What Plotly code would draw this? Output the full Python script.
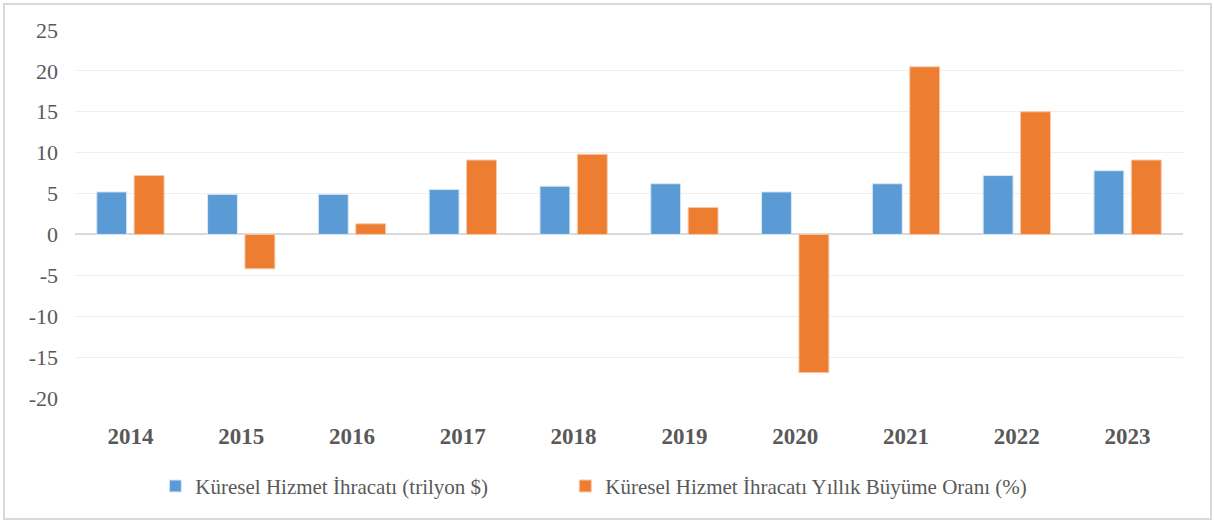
import plotly.graph_objects as go

# values
years = ["2014", "2015", "2016", "2017", "2018", "2019", "2020", "2021", "2022", "2023"]
exports_trn = [5.2, 4.9, 4.9, 5.5, 5.9, 6.2, 5.2, 6.2, 7.2, 7.8]
growth_pct = [7.2, -4.2, 1.3, 9.1, 9.8, 3.3, -16.9, 20.5, 15.0, 9.1]
y_ticks = [-20, -15, -10, -5, 0, 5, 10, 15, 20, 25]
y_tick_text = ["-20", "-15", "-10", "-5", "0", "5", "10", "15", "20", "25"]

name_exports = "Küresel Hizmet İhracatı (trilyon $)"
name_growth = "Küresel Hizmet İhracatı Yıllık Büyüme Oranı (%)"

SERIF = '"Liberation Serif", "Times New Roman", serif'
TEXT_GREY = "#595959"

fig = go.Figure()
fig.add_trace(go.Bar(
    x=years, y=exports_trn, name=name_exports, legend="legend",
    marker=dict(color="#5B9BD5", line=dict(color="#dbe8f5", width=1)),
))
fig.add_trace(go.Bar(
    x=years, y=growth_pct, name=name_growth, legend="legend2",
    marker=dict(color="#ED7D31", line=dict(color="#f6c9aa", width=1)),
))

# one legend per series so the wide gap between the two entries can be kept
legend_style = dict(
    orientation="h", xanchor="left", y=-0.24, yanchor="middle",
    font=dict(family=SERIF, size=21, color=TEXT_GREY),
    bgcolor="rgba(0,0,0,0)",
)

fig.update_layout(
    width=1214, height=523,
    margin=dict(l=75, r=31, t=30, b=125),
    paper_bgcolor="white", plot_bgcolor="white",
    barmode="group", bargap=0.325, bargroupgap=0.2,
    font=dict(family=SERIF, color=TEXT_GREY),
    legend=dict(x=0.0725, **legend_style),
    legend2=dict(x=0.4425, **legend_style),
    showlegend=True,
)

fig.update_xaxes(
    type="category",
    showgrid=False, showline=False, zeroline=False,
    tickfont=dict(family=SERIF, size=23, color=TEXT_GREY, weight="bold"),
    ticklabelstandoff=22,
)
fig.update_yaxes(
    range=[-20, 25], tickvals=y_ticks, ticktext=y_tick_text,
    showgrid=True, gridcolor="#efefef", gridwidth=1,
    zeroline=True, zerolinecolor="#d9d9d9", zerolinewidth=2,
    showline=False,
    tickfont=dict(family=SERIF, size=22, color=TEXT_GREY),
    ticklabelstandoff=16,
)

# light grey frame round the whole chart area
fig.add_shape(
    type="rect", xref="paper", yref="paper",
    x0=(4 - 75) / 1108, x1=(1211 - 75) / 1108,
    y0=(398 - 519) / 368, y1=1 + (30 - 4) / 368,
    line=dict(color="#d9d9d9", width=2), fillcolor="rgba(0,0,0,0)", layer="below",
)

# drop the browser's default body margin so the figure fills the window
fig.write_html(
    "out.html",
    config={"displayModeBar": False},
    post_script="document.body.style.margin = '0';",
)
